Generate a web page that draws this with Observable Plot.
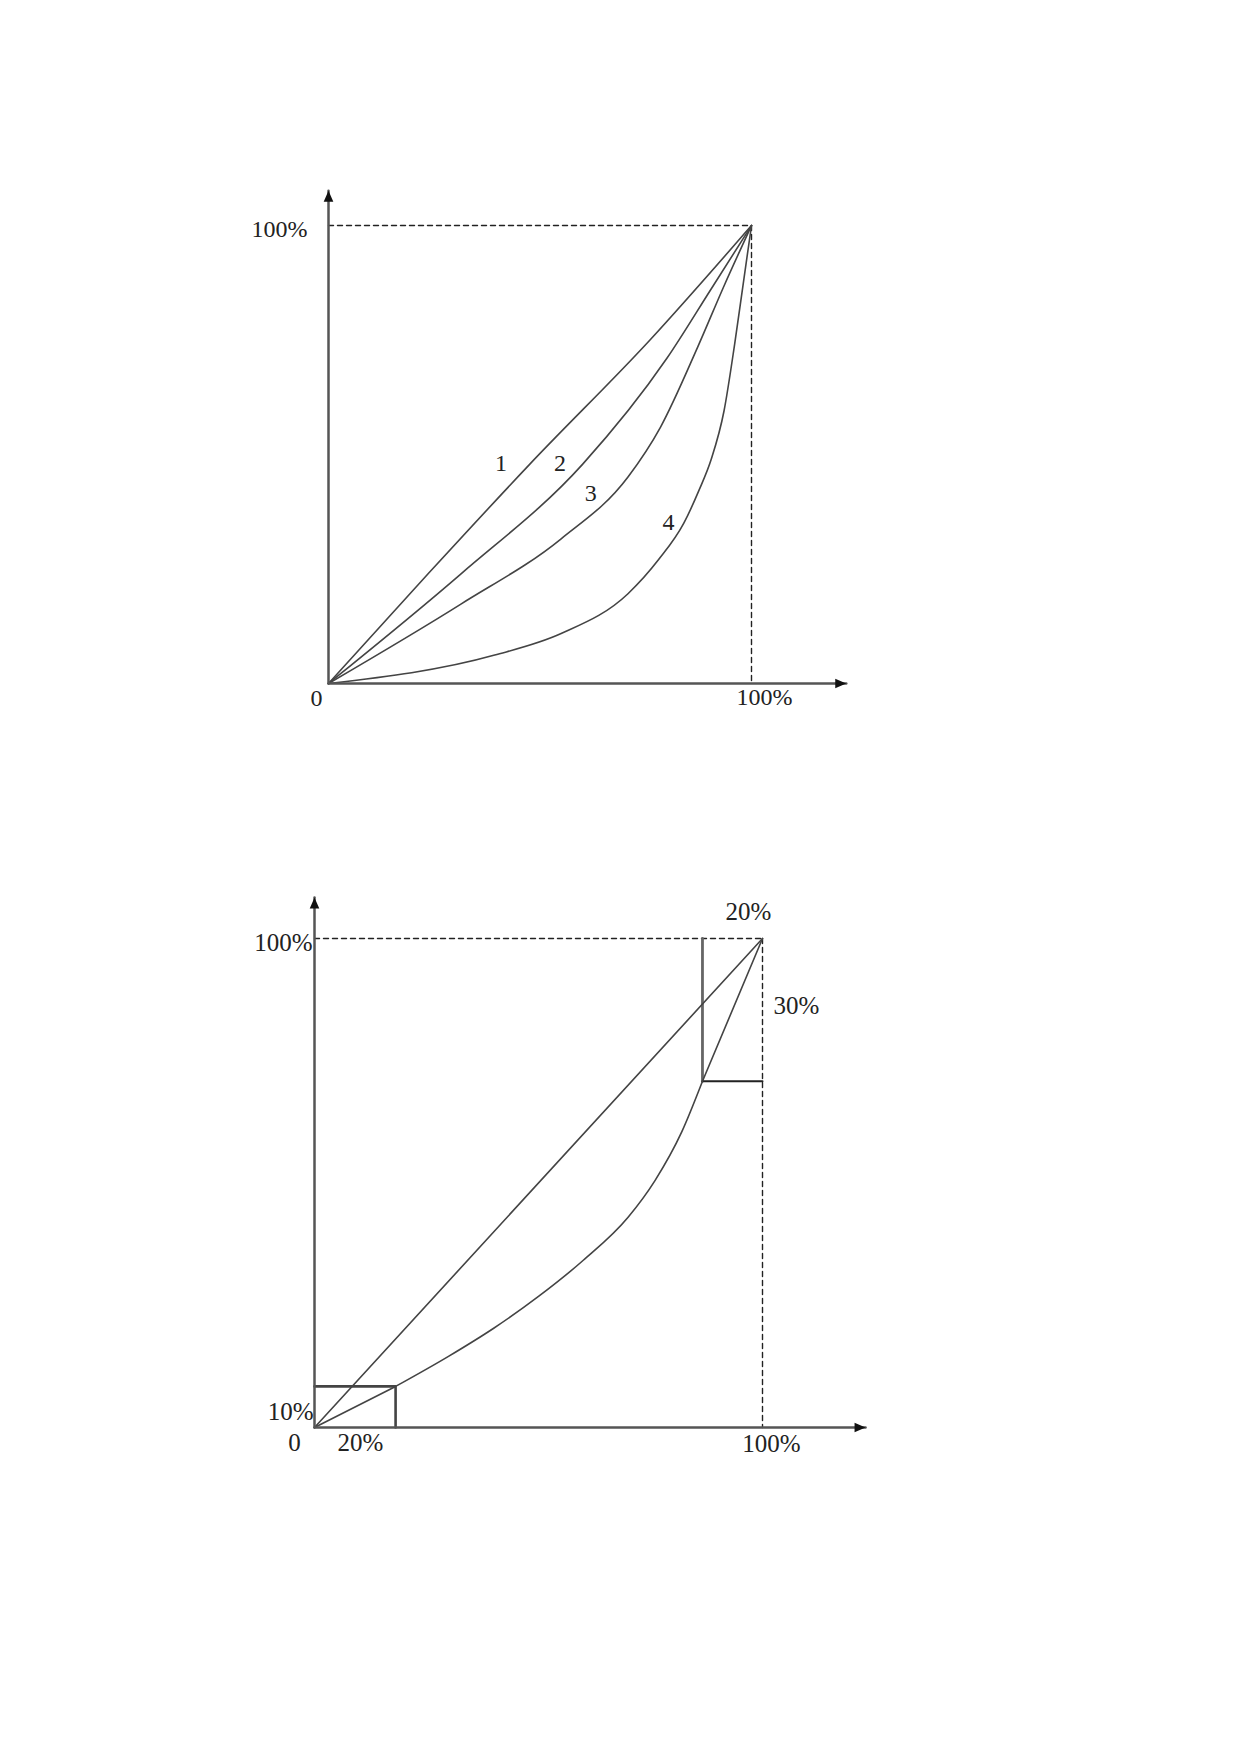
<!DOCTYPE html>
<html>
<head>
<meta charset="utf-8">
<script src="https://cdn.jsdelivr.net/npm/d3@7"></script>
<script src="https://cdn.jsdelivr.net/npm/@observablehq/plot@0.6"></script>
<style>
  html, body { margin: 0; padding: 0; background: #fff; }
  #page { position: relative; width: 1239px; height: 1752px; background: #fff; overflow: hidden; }
  #page svg { position: absolute; left: 0; }
</style>
</head>
<body>
<div id="page"></div>
<script>
// ---------- DATA ----------
// Chart 1: four Lorenz-type curves (share of x vs share of y, 0..1)
const curveNames = ["1", "2", "3", "4"];
const curve1 = [[0,0],[0.236,0.24],[0.476,0.479],[0.76,0.75],[1,1]];
const curve2 = [[0,0],[0.314,0.24],[0.601,0.479],[0.8,0.71],[0.905,0.862],[1,1]];
const curve3 = [[0,0],[0.314,0.174],[0.55,0.316],[0.708,0.451],[0.785,0.56],[0.873,0.735],[0.935,0.868],[1,1]];
const curve4 = [[0,0],[0.393,0.062],[0.55,0.109],[0.708,0.196],[0.78,0.27],[0.84,0.35],[0.875,0.42],[0.905,0.49],[0.935,0.595],[0.96,0.74],[0.98,0.87],[1,1]];
const curveLabelPos = [[0.408,0.4815],[0.547,0.4815],[0.620,0.416],[0.804,0.353]];
const chart1TickText = ["100%", "0", "100%"];

// Chart 2: equality line and a Lorenz curve with two marked segments
const equalityLine = [[0,0],[1,1]];
const lowCorner = [0.181, 0.084];   // bottom group: 20% of x, 10% of y
const highCorner = [0.866, 0.708];  // top group: 20% of x, 30% of y
const lorenzMiddle = [[0.181,0.084],[0.30,0.146],[0.40,0.203],[0.50,0.268],[0.60,0.342],[0.70,0.43],[0.76,0.505],[0.82,0.605],[0.866,0.708]];
const chart2Text = ["100%", "10%", "0", "20%", "100%", "20%", "30%"];

// ---------- HELPERS ----------
const W = 1239;
const FONT = "'Liberation Serif', 'Times New Roman', serif";
const arrowUp = { draw(c) { c.moveTo(0, 0); c.lineTo(-4.8, 11); c.lineTo(4.8, 11); c.closePath(); } };
const arrowRight = { draw(c) { c.moveTo(0, 0); c.lineTo(-11, -4.8); c.lineTo(-11, 4.8); c.closePath(); } };
const axisStyle = { stroke: "#555", strokeWidth: 2.5 };
const dashStyle = { stroke: "#222", strokeWidth: 1.4, strokeDasharray: "5,4" };
const curveStyle = { stroke: "#444", strokeWidth: 1.6 };

function axes(xTip, yTip) {
  return [
    Plot.line([[0,0],[xTip,0]], { x: d => d[0], y: d => d[1], ...axisStyle }),
    Plot.line([[0,0],[0,yTip]], { x: d => d[0], y: d => d[1], ...axisStyle }),
    Plot.dot([[0, yTip]], { x: d => d[0], y: d => d[1], symbol: arrowUp, r: 4, fill: "#111", stroke: "none" }),
    Plot.dot([[xTip, 0]], { x: d => d[0], y: d => d[1], symbol: arrowRight, r: 4, fill: "#111", stroke: "none" })
  ];
}
function dashes() {
  return [
    Plot.line([[0,1],[1,1]], { x: d => d[0], y: d => d[1], ...dashStyle }),
    Plot.line([[1,1],[1,0]], { x: d => d[0], y: d => d[1], ...dashStyle })
  ];
}

// ---------- CHART 1 ----------
const curvesTable = [curve1, curve2, curve3, curve4].flatMap((c, i) =>
  c.map(([x, y]) => ({ series: curveNames[i], x, y })));
const labelsTable = curveNames.map((n, i) => ({ text: n, x: curveLabelPos[i][0], y: curveLabelPos[i][1] }));

const H1 = 800;
const p1 = Plot.plot({
  width: W, height: H1,
  marginLeft: 328, marginRight: W - 751, marginTop: 225, marginBottom: H1 - 683,
  x: { domain: [0, 1], axis: null },
  y: { domain: [0, 1], axis: null },
  style: { fontFamily: FONT, fontSize: "24px", background: "white", overflow: "visible", color: "#222" },
  marks: [
    ...dashes(),
    Plot.line(curvesTable, { x: "x", y: "y", z: "series", curve: "monotone-x", ...curveStyle }),
    ...axes(1.224, 1.076),
    Plot.text(labelsTable, { x: "x", y: "y", text: "text", fontSize: 24, fill: "#222" }),
    Plot.text([chart1TickText[0]], { x: 0, y: 1, textAnchor: "end", dx: -21, dy: 4, fontSize: 24, fill: "#222" }),
    Plot.text([chart1TickText[1]], { x: 0, y: 0, dx: -12, dy: 15, fontSize: 24, fill: "#222" }),
    Plot.text([chart1TickText[2]], { x: 1, y: 0, dx: 13, dy: 14, fontSize: 24, fill: "#222" })
  ]
});
p1.style.top = "0px";
document.getElementById("page").appendChild(p1);

// ---------- CHART 2 ----------
const TOP2 = 800, H2 = 952;
const p2 = Plot.plot({
  width: W, height: H2,
  marginLeft: 314, marginRight: W - 762, marginTop: 938 - TOP2, marginBottom: H2 - (1427 - TOP2),
  x: { domain: [0, 1], axis: null },
  y: { domain: [0, 1], axis: null },
  style: { fontFamily: FONT, fontSize: "25px", background: "white", overflow: "visible", color: "#222" },
  marks: [
    ...dashes(),
    // marked groups
    Plot.line([[0, lowCorner[1]], lowCorner, [lowCorner[0], 0]], { x: d => d[0], y: d => d[1], stroke: "#444", strokeWidth: 2.6 }),
    Plot.line([[highCorner[0], 1], highCorner], { x: d => d[0], y: d => d[1], stroke: "#666", strokeWidth: 2.8 }),
    Plot.line([highCorner, [1, highCorner[1]]], { x: d => d[0], y: d => d[1], stroke: "#222", strokeWidth: 2 }),
    // equality line
    Plot.line(equalityLine, { x: d => d[0], y: d => d[1], ...curveStyle }),
    // Lorenz curve: straight first group, smooth middle, straight last group
    Plot.line([[0,0], lowCorner], { x: d => d[0], y: d => d[1], ...curveStyle }),
    Plot.line(lorenzMiddle, { x: d => d[0], y: d => d[1], curve: "monotone-x", ...curveStyle }),
    Plot.line([highCorner, [1,1]], { x: d => d[0], y: d => d[1], ...curveStyle }),
    ...axes(1.23, 1.084),
    Plot.text([chart2Text[0]], { x: 0, y: 1, textAnchor: "end", dx: -2, dy: 4, fontSize: 25, fill: "#222" }),
    Plot.text([chart2Text[1]], { x: 0, y: 0, textAnchor: "end", dx: -1, dy: -16, fontSize: 25, fill: "#222" }),
    Plot.text([chart2Text[2]], { x: 0, y: 0, dx: -20, dy: 15, fontSize: 25, fill: "#222" }),
    Plot.text([chart2Text[3]], { x: 0, y: 0, dx: 46, dy: 15, fontSize: 25, fill: "#222" }),
    Plot.text([chart2Text[4]], { x: 1, y: 0, dx: 9, dy: 16, fontSize: 25, fill: "#222" }),
    Plot.text([chart2Text[5]], { x: 1, y: 1, dx: -14, dy: -27, fontSize: 25, fill: "#222" }),
    Plot.text([chart2Text[6]], { x: 1, y: 1, dx: 34, dy: 67, fontSize: 25, fill: "#222" })
  ]
});
p2.style.top = TOP2 + "px";
document.getElementById("page").appendChild(p2);
</script>
</body>
</html>
